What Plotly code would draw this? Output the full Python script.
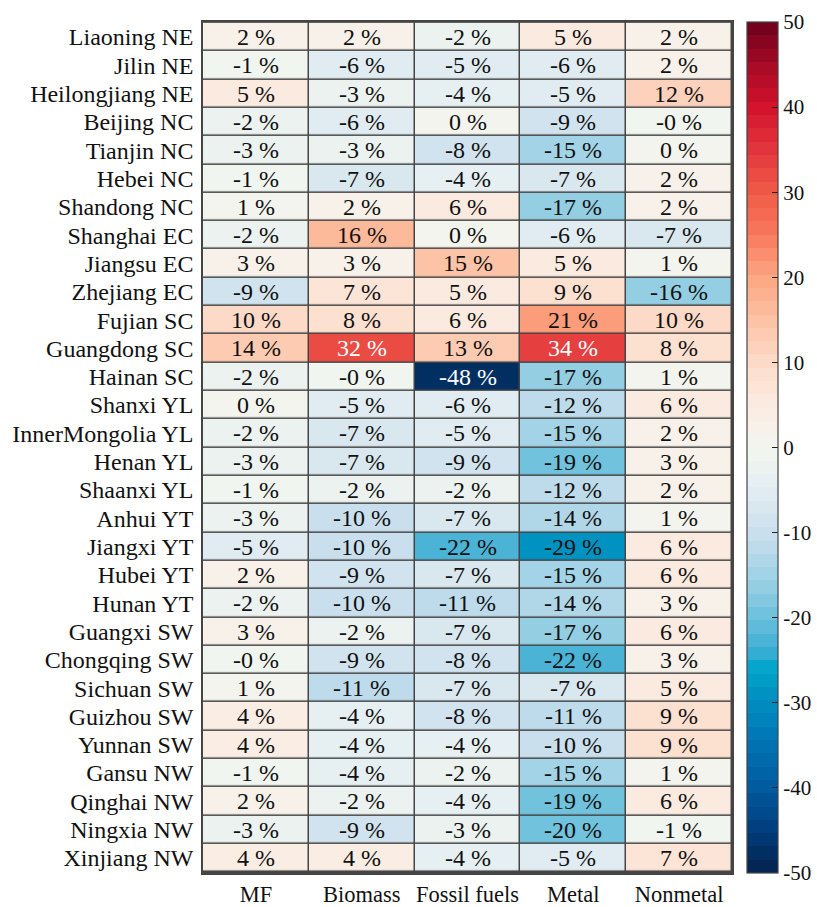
import plotly.graph_objects as go

# Regions (rows, top to bottom) and material categories (columns)
regions = [
    "Liaoning NE", "Jilin NE", "Heilongjiang NE", "Beijing NC", "Tianjin NC",
    "Hebei NC", "Shandong NC", "Shanghai EC", "Jiangsu EC", "Zhejiang EC",
    "Fujian SC", "Guangdong SC", "Hainan SC", "Shanxi YL", "InnerMongolia YL",
    "Henan YL", "Shaanxi YL", "Anhui YT", "Jiangxi YT", "Hubei YT",
    "Hunan YT", "Guangxi SW", "Chongqing SW", "Sichuan SW", "Guizhou SW",
    "Yunnan SW", "Gansu NW", "Qinghai NW", "Ningxia NW", "Xinjiang NW",
]
categories = ["MF", "Biomass", "Fossil fuels", "Metal", "Nonmetal"]

# Percentage change per region, one list per category
mf = [2, -1, 5, -2, -3, -1, 1, -2, 3, -9, 10, 14, -2, 0.3, -2,
      -3, -1, -3, -5, 2, -2, 3, -0.3, 1, 4, 4, -1, 2, -3, 4]
biomass = [2, -6, -3, -6, -3, -7, 2, 16, 3, 7, 8, 32, -0.3, -5, -7,
           -7, -2, -10, -10, -9, -10, -2, -9, -11, -4, -4, -4, -2, -9, 4]
fossil = [-2, -5, -4, 0.3, -8, -4, 6, 0.3, 15, 5, 6, 13, -48, -6, -5,
          -9, -2, -7, -22, -7, -11, -7, -8, -7, -8, -4, -2, -4, -3, -4]
metal = [5, -6, -5, -9, -15, -7, -17, -6, 5, 9, 21, 34, -17, -12, -15,
         -19, -12, -14, -29, -15, -14, -17, -22, -7, -11, -10, -15, -19, -20, -5]
nonmetal = [2, 2, 12, -0.3, 0.3, 2, 2, -7, 1, -16, 10, 8, 1, 6, 2,
            3, 2, 1, 6, 6, 3, 6, 3, 5, 9, 9, 1, 6, -1, 7]

# Colour bar ticks
cbar_ticks = [50, 40, 30, 20, 10, 0, -10, -20, -30, -40, -50]

columns = [mf, biomass, fossil, metal, nonmetal]
z = [[col[i] for col in columns] for i in range(len(regions))]

# Diverging blue-white-red palette, sampled into 64 flat bands
anchors = [
    (-50, "#03224c"), (-45, "#003d7c"), (-40, "#005a9e"), (-35, "#0073b2"),
    (-30, "#008cbf"), (-26, "#00a5cb"), (-24, "#3aaed3"), (-20, "#6cc0dc"),
    (-15, "#a2d3e6"), (-10, "#cbdfed"), (-5, "#e2edf1"), (0, "#f3f6f0"),
    (5, "#fbebe1"), (10, "#fddbc9"), (15, "#fdc2a5"), (20, "#fca682"),
    (25, "#f8795d"), (30, "#ef5a47"), (35, "#e3353c"), (40, "#d3122c"),
    (45, "#a60a25"), (50, "#6b001e"),
]


def hex_rgb(h):
    h = h.lstrip("#")
    return tuple(int(h[k:k + 2], 16) for k in (0, 2, 4))


def color_at(v):
    for (v0, c0), (v1, c1) in zip(anchors[:-1], anchors[1:]):
        if v0 <= v <= v1:
            t = (v - v0) / (v1 - v0)
            a, b = hex_rgb(c0), hex_rgb(c1)
            r, g, bl = (round(a[k] + (b[k] - a[k]) * t) for k in range(3))
            return f"rgb({r},{g},{bl})"
    return anchors[-1][1]


n_bands = 64
zmin, zmax = -50, 50
colorscale = []
for i in range(n_bands):
    c = color_at(zmin + (i + 0.5) * (zmax - zmin) / n_bands)
    colorscale.append([i / n_bands, c])
    colorscale.append([(i + 1) / n_bands, c])

font_family = "Times New Roman, Liberation Serif, serif"
grid_color = "#454545"

fig = go.Figure(
    go.Heatmap(
        z=z,
        x=categories,
        y=regions,
        zmin=zmin,
        zmax=zmax,
        colorscale=colorscale,
        xgap=1.5,
        ygap=1.5,
        hoverongaps=False,
        colorbar=dict(
            x=1.0285,
            xanchor="left",
            xpad=0,
            y=0.5,
            yanchor="middle",
            ypad=0,
            len=1,
            lenmode="fraction",
            thickness=31,
            outlinewidth=1.2,
            outlinecolor=grid_color,
            ticks="inside",
            ticklen=6,
            tickwidth=1.3,
            tickcolor="#222222",
            tickmode="array",
            tickvals=cbar_ticks,
            ticktext=[str(t) for t in cbar_ticks],
            tickfont=dict(family=font_family, size=21, color="#111111"),
        ),
    )
)

# Value labels in each cell
for i, region in enumerate(regions):
    for j, cat in enumerate(categories):
        v = z[i][j]
        fig.add_annotation(
            x=cat,
            y=region,
            text=f"{v:.0f} %",
            showarrow=False,
            font=dict(
                family=font_family,
                size=24,
                color="white" if abs(v) >= 30 else "#111111",
            ),
        )

fig.update_layout(
    width=817,
    height=907,
    margin=dict(l=203, r=85, t=22, b=34, autoexpand=False),
    paper_bgcolor="white",
    plot_bgcolor=grid_color,
    font=dict(family=font_family, color="#111111"),
    xaxis=dict(
        showgrid=False,
        zeroline=False,
        showline=True,
        mirror=True,
        linecolor=grid_color,
        linewidth=1.5,
        ticks="",
        tickmode="array",
        tickvals=categories,
        ticklabelstandoff=0,
        tickfont=dict(family=font_family, size=22.5),
    ),
    yaxis=dict(
        autorange="reversed",
        showgrid=False,
        zeroline=False,
        showline=True,
        mirror=True,
        linecolor=grid_color,
        linewidth=1.5,
        ticks="",
        tickmode="array",
        tickvals=regions,
        ticklabelstandoff=3,
        tickfont=dict(family=font_family, size=24),
    ),
)

fig.write_html("out.html")
